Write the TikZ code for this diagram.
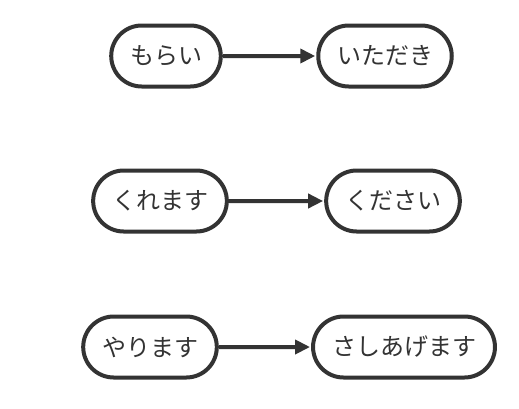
\documentclass[tikz,border=0pt]{standalone}
\usepackage{fontspec}
\newfontfamily\jpfont{Noto Sans CJK JP}
\usetikzlibrary{shapes.misc, arrows.meta}
\definecolor{stroke}{HTML}{333333}
\begin{document}
\begin{tikzpicture}[x=1pt, y=-1pt,
				>={Triangle[length=15pt, width=14pt]},
				term/.style={draw=stroke, line width=4pt, rounded rectangle, fill=white,
					minimum height=61pt, inner xsep=17pt, text=stroke,
					font=\jpfont\fontsize{24}{28}\selectfont},
				link/.style={->, draw=stroke, line width=4pt, shorten >=1pt}]
				% Bildbereich
				\useasboundingbox (0,0) rectangle (519,408);
				% erste Zeile
				\node[term] (morai) at (166,56) {もらい};
				\node[term] (itadaki) at (385,56) {いただき};
				% zweite Zeile
				\node[term] (kuremasu) at (160,201) {くれます};
				\node[term] (kudasai) at (393,201) {ください};
				% dritte Zeile
				\node[term] (yarimasu) at (150,347) {やります};
				\node[term] (sashiagemasu) at (404,347) {さしあげます};
				% Pfeile
				\draw[link] (morai) -- (itadaki);
				\draw[link] (kuremasu) -- (kudasai);
				\draw[link] (yarimasu) -- (sashiagemasu);
\end{tikzpicture}
\end{document}
